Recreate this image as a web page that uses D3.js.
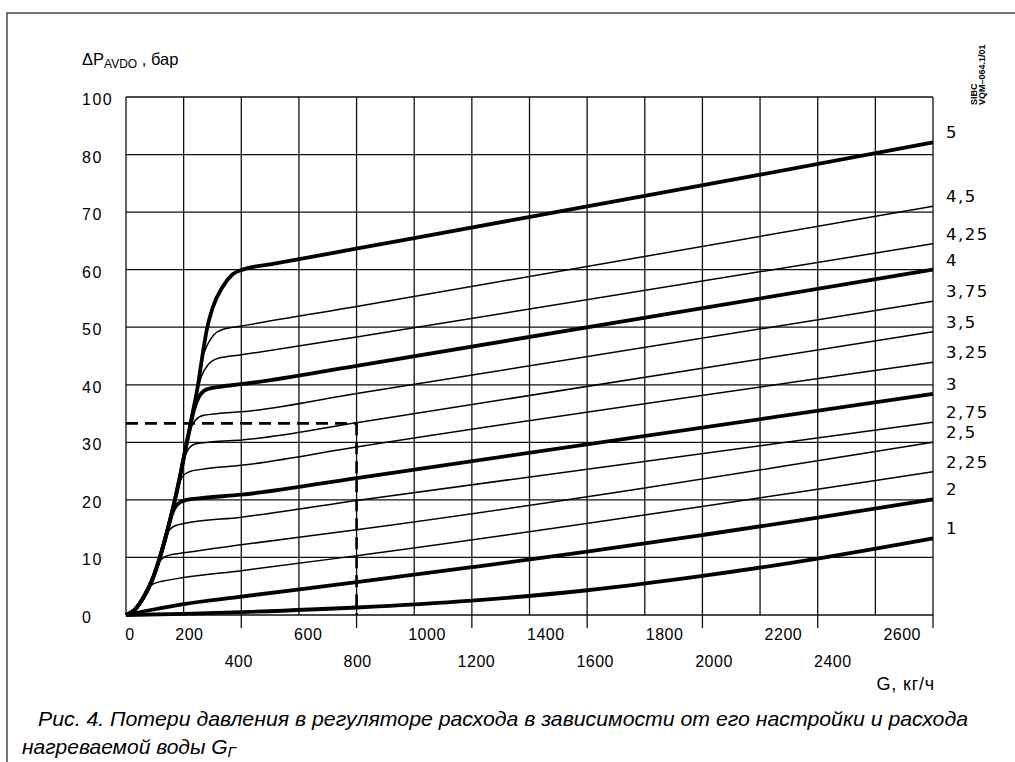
<!DOCTYPE html>
<html>
<head>
<meta charset="utf-8">
<script src="https://cdn.jsdelivr.net/npm/d3@7"></script>
<style>
  body { margin: 0; background: #fff; }
  svg { display: block; }
</style>
</head>
<body>
<svg id="chart" width="1015" height="762"></svg>
<script>
// Flow axis (G, kg/h) and pressure-loss axis (ΔP, bar)
const flowGrid = [0, 200, 400, 600, 800, 1000, 1200, 1400, 1600, 1800, 2000, 2200, 2400, 2600, 2800];
const flowMajor = [400, 800, 1200, 1600, 2000, 2400, 2800];
const flowLabelsUpper = [0, 200, 600, 1000, 1400, 1800, 2200, 2600];
const flowLabelsLower = [400, 800, 1200, 1600, 2000, 2400];
const dpGrid = [0, 10, 20, 30, 40, 50, 60, 70, 80, 90];
const dpLabels = ["0", "10", "20", "30", "40", "50", "60", "70", "80", "100"];

// Regulator settings: [G, ΔP] points per curve
const setting1 = [[0,0],[200,0.2],[400,0.5],[800,1.3],[1200,2.5],[1600,4.3],[2000,6.8],[2400,9.8],[2800,13.3]];
const setting2 = [[0,0],[100,1.0],[200,1.9],[400,3.2],[800,5.7],[1200,8.3],[1600,11],[2000,13.9],[2400,16.9],[2800,20.1]];
const setting225 = [[0,0],[30,0.9],[60,3],[80,4.8],[95,5.4],[130,5.9],[200,6.5],[400,7.7],[800,10.3],[2800,24.9]];
const setting25 = [[0,0],[30,0.9],[60,3],[90,6],[110,8.8],[125,9.8],[150,10.4],[200,10.8],[400,12.2],[800,14.8],[2800,30]];
const setting275 = [[0,0],[30,0.9],[60,3],[90,6],[115,9.6],[140,14],[155,15],[175,15.6],[200,15.9],[400,17],[800,19.9],[2800,33.5]];
const setting3 = [[0,0],[30,0.9],[60,3],[90,6],[115,9.6],[140,14],[160,17.6],[180,19.3],[210,20],[260,20.3],[400,20.9],[800,23.8],[2800,38.4]];
const setting325 = [[0,0],[30,0.9],[60,3],[90,6],[115,9.6],[140,14],[165,19],[180,22],[195,24],[220,24.9],[260,25.3],[400,26],[800,29.2],[2800,43.9]];
const setting35 = [[0,0],[30,0.9],[60,3],[90,6],[115,9.6],[140,14],[165,19],[185,23.5],[200,26.8],[215,28.7],[240,29.7],[300,30.1],[400,30.4],[800,33.4],[2800,49.2]];
const setting375 = [[0,0],[30,0.9],[60,3],[90,6],[115,9.6],[140,14],[165,19],[185,23.5],[205,28.5],[220,31.8],[240,33.8],[270,34.7],[320,35],[400,35.3],[800,38.5],[2800,54.5]];
const setting4 = [[0,0],[30,0.9],[60,3],[90,6],[115,9.6],[140,14],[165,19],[185,23.5],[205,28.5],[220,32],[235,35.5],[252,37.8],[280,39.2],[330,39.7],[400,40.1],[800,43.3],[2800,60]];
const setting425 = [[0,0],[30,0.9],[60,3],[90,6],[115,9.6],[140,14],[165,19],[185,23.5],[205,28.5],[228,34.3],[245,38.5],[262,41.5],[285,43.5],[320,44.6],[400,45.2],[800,48.3],[2800,64.5]];
const setting45 = [[0,0],[30,0.9],[60,3],[90,6],[115,9.6],[140,14],[165,19],[185,23.5],[205,28.5],[228,34.3],[250,40],[265,44.5],[283,47],[305,48.7],[335,49.6],[400,50.2],[800,53.6],[2800,71]];
const setting5 = [[0,0],[30,0.9],[60,3],[90,6],[115,9.6],[140,14],[165,19],[185,23.5],[205,28.5],[228,34.3],[250,40],[265,45],[280,49.5],[300,53.3],[335,57],[370,59.2],[410,60.1],[500,60.9],[1000,65.5],[1600,71],[2200,76.5],[2800,82.1]];

const settingNames = ["1", "2", "2,25", "2,5", "2,75", "3", "3,25", "3,5", "3,75", "4", "4,25", "4,5", "5"];
const settingHeavy = [true, true, false, false, false, true, false, false, false, true, false, false, true];
const settingValues = [setting1, setting2, setting225, setting25, setting275, setting3, setting325, setting35, setting375, setting4, setting425, setting45, setting5];

// Worked example: G = 800 kg/h on setting 3,5
const exampleFlow = 800;
const exampleLoss = 33.3;

const svg = d3.select("#chart");
const x = d3.scaleLinear().domain([0, 2800]).range([126, 933]);
const y = d3.scaleLinear().domain([0, 90]).range([615, 97]);
// tick labels run on a slightly wider pitch than the grid
const labelX = d3.scaleLinear().domain([0, 2800]).range([x(0) + 4, x(0) + 4 + 0.297 * 2800]);

const sans = "'Liberation Sans', Arial, Helvetica, sans-serif";

// outer frame
svg.append("rect")
  .attr("x", 7).attr("y", 13).attr("width", 1030).attr("height", 800)
  .attr("fill", "none").attr("stroke", "#555").attr("stroke-width", 1.6);

// grid
const grid = svg.append("g").attr("stroke", "#111").attr("stroke-width", 1.3).attr("fill", "none");
grid.selectAll("line.v").data(flowGrid).join("line")
  .attr("x1", d => x(d)).attr("x2", d => x(d))
  .attr("y1", y(90)).attr("y2", y(0));
grid.selectAll("line.h").data(dpGrid).join("line")
  .attr("x1", x(0)).attr("x2", x(2800))
  .attr("y1", d => y(d)).attr("y2", d => y(d));
grid.selectAll("line.t").data(flowMajor).join("line")
  .attr("x1", d => x(d)).attr("x2", d => x(d))
  .attr("y1", y(0)).attr("y2", y(0) + 13);

// curves (light ones first, heavy ones on top)
const line = d3.line().x(d => x(d[0])).y(d => y(d[1])).curve(d3.curveMonotoneX);
const order = d3.range(settingValues.length).sort((a, b) => settingHeavy[a] - settingHeavy[b]);
svg.append("g").attr("fill", "none").attr("stroke", "#000").attr("stroke-linejoin", "round")
  .selectAll("path").data(order).join("path")
  .attr("d", i => line(settingValues[i]))
  .attr("stroke-width", i => settingHeavy[i] ? 3.8 : 1.5);

// worked example
const dash = svg.append("g").attr("stroke", "#000").attr("stroke-width", 2.6).attr("stroke-dasharray", "12,7");
dash.append("line").attr("x1", x(0)).attr("x2", x(exampleFlow)).attr("y1", y(exampleLoss)).attr("y2", y(exampleLoss));
dash.append("line").attr("x1", x(exampleFlow)).attr("x2", x(exampleFlow)).attr("y1", y(exampleLoss)).attr("y2", y(0));

// y tick labels
svg.append("g").attr("font-family", sans).attr("font-size", 16).attr("letter-spacing", 1.5)
  .selectAll("text").data(dpGrid).join("text")
  .attr("x", 82).attr("y", d => y(d) + 8)
  .text((d, i) => dpLabels[i]);

// x tick labels, two staggered rows
const xl = svg.append("g").attr("font-family", sans).attr("font-size", 16).attr("text-anchor", "middle").attr("letter-spacing", 0.5);
xl.selectAll("text.u").data(flowLabelsUpper).join("text")
  .attr("x", d => labelX(d)).attr("y", 640).text(d => d);
xl.selectAll("text.l").data(flowLabelsLower).join("text")
  .attr("x", d => labelX(d) - 10).attr("y", 667).text(d => d);

// axis titles
const yt = svg.append("text").attr("x", 82).attr("y", 65).attr("font-family", sans).attr("font-size", 16.5);
yt.append("tspan").text("ΔP");
yt.append("tspan").attr("font-size", 12).attr("dy", 3).text("AVDO");
yt.append("tspan").attr("dy", -3).text(" , бар");

svg.append("text").attr("x", 935).attr("y", 690).attr("text-anchor", "end")
  .attr("font-family", sans).attr("font-size", 18).attr("letter-spacing", 0.8).text("G, кг/ч");

// setting labels at the right end of each curve
svg.append("g").attr("font-family", "'DejaVu Sans', sans-serif").attr("font-size", 16.5).attr("letter-spacing", 1.5)
  .selectAll("text").data(settingValues).join("text")
  .attr("x", 946)
  .attr("y", d => y(d[d.length - 1][1]) - 4)
  .text((d, i) => settingNames[i]);

// drawing code
const code = svg.append("g").attr("font-family", sans).attr("font-weight", "bold").attr("font-size", 9);
code.append("text").attr("transform", "translate(977,105) rotate(-90)").text("SIBC");
code.append("text").attr("transform", "translate(985,105) rotate(-90)").text("VQM–064.1/01");

// caption
const cap = svg.append("g").attr("font-family", "'Liberation Sans Narrow', 'Liberation Sans', Arial, sans-serif")
  .attr("font-style", "italic").attr("font-size", 21);
cap.append("text").attr("x", 38).attr("y", 726)
  .attr("textLength", 930).attr("lengthAdjust", "spacingAndGlyphs")
  .text("Рис. 4. Потери давления в регуляторе расхода в зависимости от его настройки и расхода");
const cap2 = cap.append("text").attr("x", 22).attr("y", 754);
cap2.append("tspan").text("нагреваемой воды G");
cap2.append("tspan").attr("font-size", 15).attr("dy", 3).text("Г");
</script>
</body>
</html>
